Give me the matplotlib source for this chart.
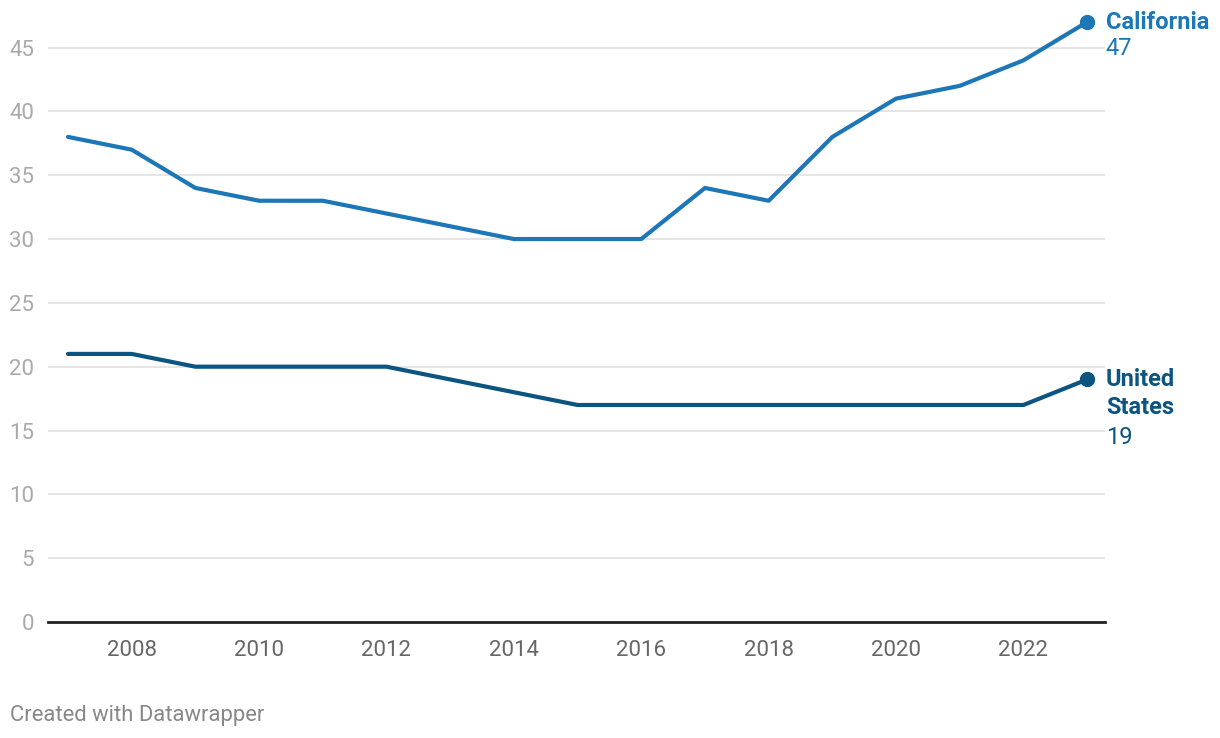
import matplotlib.pyplot as plt

plt.rcParams["font.family"] = ["Roboto", "DejaVu Sans"]

years = list(range(2007, 2024))
california = [38, 37, 34, 33, 33, 32, 31, 30, 30, 30, 34, 33, 38, 41, 42, 44, 47]
united_states = [21, 21, 20, 20, 20, 20, 19, 18, 17, 17, 17, 17, 17, 17, 17, 17, 19]
y_ticks = [0, 5, 10, 15, 20, 25, 30, 35, 40, 45]
x_ticks = [2008, 2010, 2012, 2014, 2016, 2018, 2020, 2022]

CA_COLOR = "#1d76b6"
US_COLOR = "#0b5580"

fig = plt.figure(figsize=(12.2, 7.38), dpi=100)
ax = fig.add_axes([48 / 1220, 1 - 622 / 738, (1105 - 48) / 1220, (622 - 15) / 738])

ax.plot(years, california, color=CA_COLOR, linewidth=3, solid_capstyle="round", zorder=3)
ax.plot(years, united_states, color=US_COLOR, linewidth=3, solid_capstyle="round", zorder=3)
ax.scatter([years[-1]], [california[-1]], s=100, color=CA_COLOR, zorder=4, clip_on=False)
ax.scatter([years[-1]], [united_states[-1]], s=100, color=US_COLOR, zorder=4, clip_on=False)

ax.set_xlim(2006.686, 2023.28)
ax.set_ylim(0, 47.55)

ax.set_yticks(y_ticks)
ax.set_xticks(x_ticks)
ax.set_xticklabels([str(x) for x in x_ticks], fontsize=16, color="#666666")
ax.set_yticklabels([str(y) for y in y_ticks], fontsize=16, color="#aaaaaa")
ax.tick_params(axis="both", length=0)
ax.tick_params(axis="y", pad=10)
ax.tick_params(axis="x", pad=13)

ax.grid(axis="y", color="#e0e0e0", linewidth=1.2)
ax.grid(axis="x", visible=False)
for side in ["top", "right", "left"]:
    ax.spines[side].set_visible(False)
ax.spines["bottom"].set_color("#222222")
ax.spines["bottom"].set_linewidth(2)
ax.spines["bottom"].set_zorder(5)

# end labels
label_dx = 13.5
end_labels = [
    ("California", california[-1], CA_COLOR, 0, "bold"),
    (str(california[-1]), california[-1], CA_COLOR, -19, "normal"),
    ("United", united_states[-1], US_COLOR, 0, "bold"),
    ("States", united_states[-1], US_COLOR, -20.5, "bold"),
    (str(united_states[-1]), united_states[-1], US_COLOR, -41.5, "normal"),
]
for text, yv, color, dy, weight in end_labels:
    ax.annotate(text, xy=(years[-1], yv), xytext=(label_dx, dy),
                textcoords="offset points", ha="left", va="center",
                fontsize=17, fontweight=weight, color=color, annotation_clip=False)

fig.text(10 / 1220, 1 - 715 / 738, "Created with Datawrapper", fontsize=15.8,
         color="#888888", ha="left", va="center")

fig.savefig("out.png", dpi=100)
